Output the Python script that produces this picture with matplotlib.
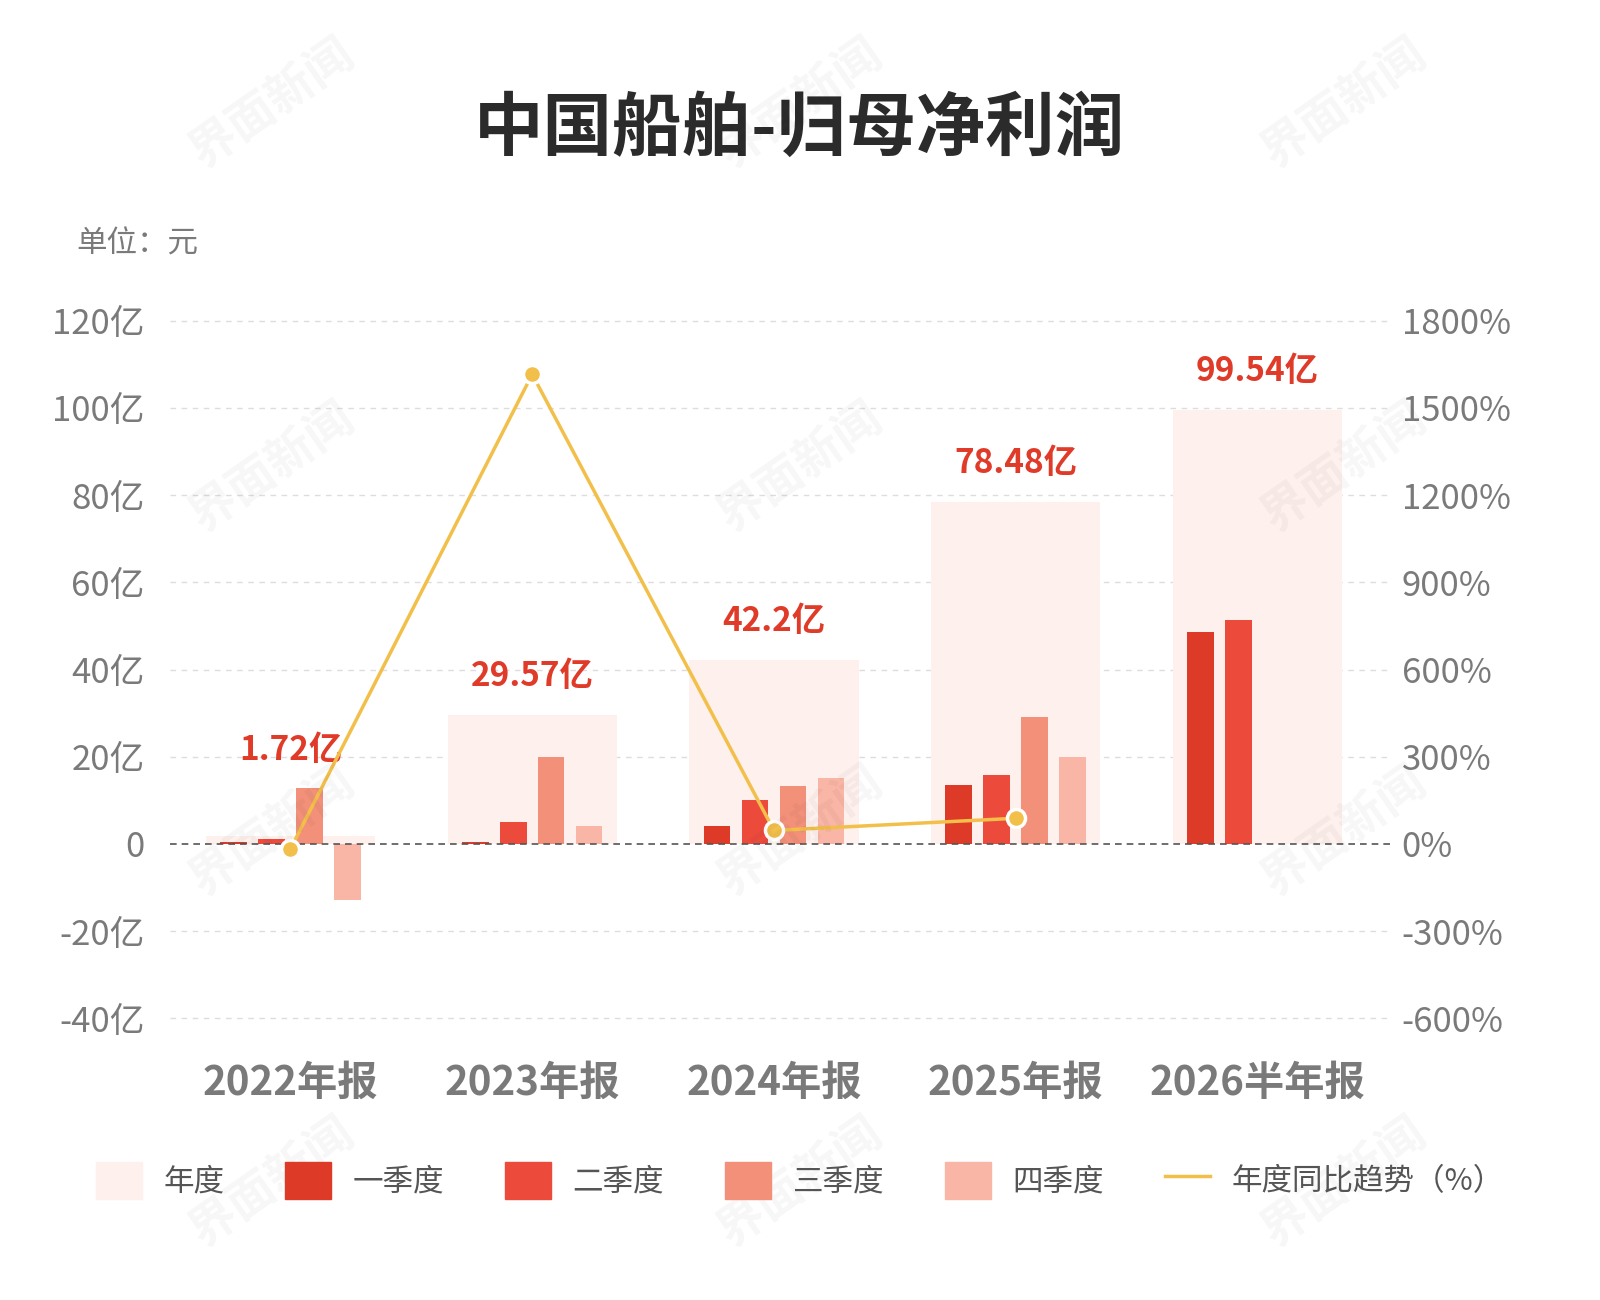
import matplotlib
matplotlib.use("Agg")
import matplotlib.pyplot as plt
import numpy as np
from matplotlib.patches import Patch
from matplotlib.lines import Line2D
from matplotlib.ticker import FuncFormatter

plt.rcParams['font.family'] = ['Noto Sans CJK SC', 'DejaVu Sans']

# =========================================================
# data (亿元, %)
# =========================================================
categories = ["2022年报", "2023年报", "2024年报", "2025年报", "2026半年报"]
annual = [1.72, 29.57, 42.2, 78.48, 99.54]
annual_labels = ["1.72亿", "29.57亿", "42.2亿", "78.48亿", "99.54亿"]
q1 = [0.5, 0.5, 4.0, 13.6, 48.5]
q2 = [1.2, 4.9, 10.1, 15.8, 51.3]
q3 = [12.7, 20.0, 13.2, 29.2, np.nan]
q4 = [-12.9, 4.0, 15.1, 20.0, np.nan]
yoy = [-17.6, 1616, 46, 88]

c_year = "#FEF0EC"
c_q = ["#DD3A28", "#EC4B3C", "#F2907A", "#F9B5A5"]
c_line = "#F2C04A"
c_label = "#E03A28"
c_text = "#7A7A7A"

fig = plt.figure(figsize=(16, 13), dpi=100)
ax = fig.add_axes([0.106, 0.2, 0.763, 0.57])
x = np.arange(len(categories))

ax.bar(x, annual, width=0.70, color=c_year, zorder=1)
offs = np.array([-1.5, -0.5, 0.5, 1.5]) * 0.157
for i, q in enumerate([q1, q2, q3, q4]):
    ax.bar(x + offs[i], q, width=0.11, color=c_q[i], zorder=2)

for i, (xi, v, lab) in enumerate(zip(x, annual, annual_labels)):
    top = np.nanmax([v, q1[i], q2[i], q3[i], q4[i]])
    ax.text(xi, top + 5, lab, ha="center", va="bottom", fontsize=24,
            fontweight="bold", color=c_label, zorder=5)

ax.set_xlim(-0.5, 4.55)
ax.set_ylim(-45, 125)
ax.set_yticks(range(-40, 121, 20))
ax.yaxis.set_major_formatter(FuncFormatter(lambda v, p: "0" if v == 0 else f"{int(v)}亿"))
ax.set_xticks(x)
ax.set_xticklabels(categories, fontsize=29, fontweight="bold", color=c_text)
ax.tick_params(axis="y", labelsize=25, labelcolor=c_text, length=0, pad=18)
ax.tick_params(axis="x", length=0, pad=16)
for s in ax.spines.values():
    s.set_visible(False)
for t in range(-40, 121, 20):
    if t != 0:
        ax.axhline(t, color="#DDDDDD", ls=(0, (4, 4)), lw=1, zorder=0)
ax.axhline(0, color="#555555", ls=(0, (4, 3)), lw=1.2, zorder=3)

ax2 = ax.twinx()
ax2.set_ylim(-45 * 15, 125 * 15)
ax2.set_yticks(range(-600, 1801, 300))
ax2.yaxis.set_major_formatter(FuncFormatter(lambda v, p: f"{int(v)}%"))
ax2.tick_params(axis="y", labelsize=25, labelcolor=c_text, length=0, pad=8)
for s in ax2.spines.values():
    s.set_visible(False)
ax2.plot(x[:len(yoy)], yoy, color=c_line, lw=2.5, marker="o", ms=13,
         mfc=c_line, mec="white", mew=2.5, zorder=6)

fig.text(0.5, 0.9, "中国船舶-归母净利润", ha="center", va="center",
         fontsize=50, fontweight="bold", color="#2B2B2B")
fig.text(0.048, 0.812, "单位：元", ha="left", va="center", fontsize=22, color=c_text)

# faint watermarks
for wx in [0.17, 0.5, 0.84]:
    for wy in [0.92, 0.64, 0.36, 0.09]:
        fig.text(wx, wy, "界面新闻", fontsize=34, color="#000000", alpha=0.035,
                 rotation=35, ha="center", va="center", fontweight="bold")

handles = [Patch(color=c_year)] + [Patch(color=c) for c in c_q] + \
          [Line2D([0], [0], color=c_line, lw=2.5)]
labels = ["年度", "一季度", "二季度", "三季度", "四季度", "年度同比趋势（%）"]
fig.legend(handles, labels, loc="center", bbox_to_anchor=(0.5, 0.092), ncol=6,
           frameon=False, fontsize=22, handlelength=1.5, handleheight=1.5,
           columnspacing=2.0, handletextpad=0.7, labelcolor="#555555")

fig.savefig("out.png", dpi=100)
